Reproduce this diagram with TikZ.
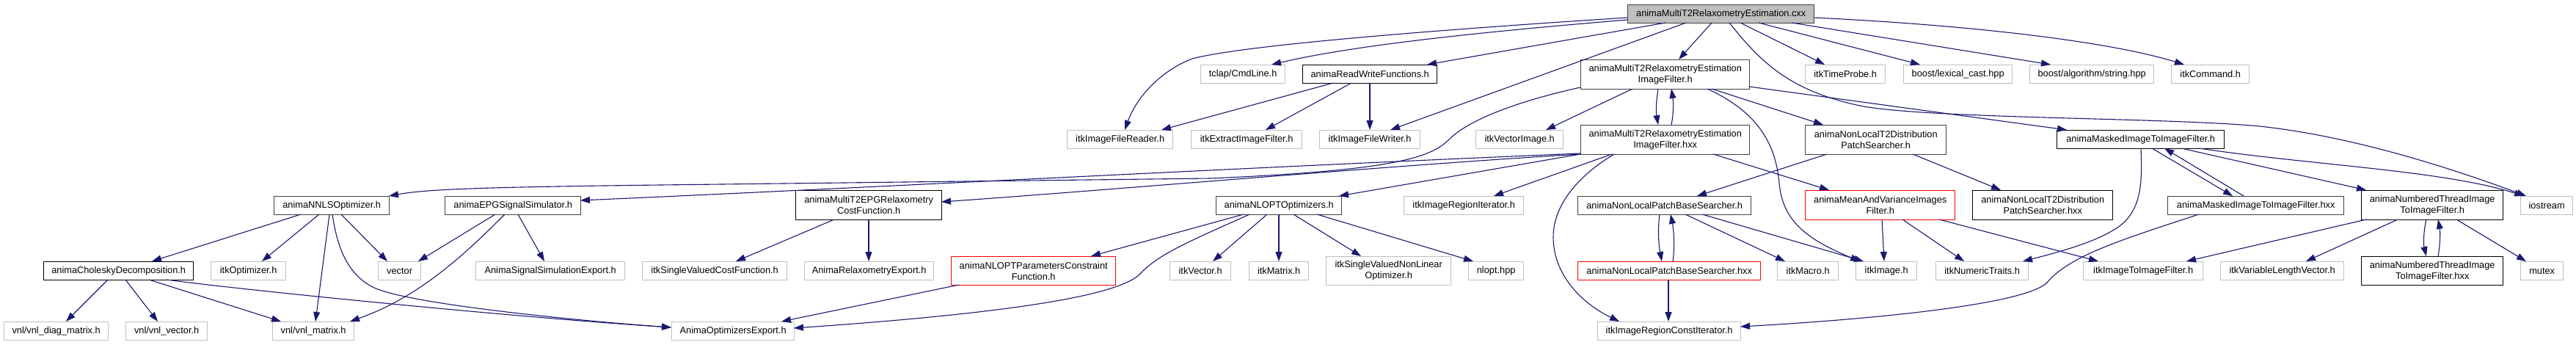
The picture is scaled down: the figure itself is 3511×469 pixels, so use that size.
\documentclass[tikz,border=0pt]{standalone}
\usepackage{fontspec}
\setmainfont{Liberation Sans}
\usetikzlibrary{arrows.meta,calc}
\definecolor{edgeblue}{HTML}{191970}
\definecolor{extgray}{HTML}{BFBFBF}
\definecolor{darkgr}{HTML}{404040}
\tikzset{
  box/.style={draw, line width=1.4pt, inner sep=0pt, anchor=north west, align=center,
    font=\fontsize{12.8}{15}\selectfont, minimum height=25pt},
  tall/.style={minimum height=40pt},
  gbox/.style={box, draw=extgray, line width=1.3pt},
  bbox/.style={box, draw=black},
  dbox/.style={box, draw=darkgr},
  rbox/.style={box, draw=red},
  rootbox/.style={box, draw=darkgr, fill=extgray},
  edge/.style={draw=edgeblue, line width=1.1pt, -{Triangle[length=13pt,width=9pt]}},
}
\begin{document}
\begin{tikzpicture}[x=1pt,y=-1pt]
\useasboundingbox (0,0) rectangle (3511,469);
% row 0
\node[rootbox, minimum width=254pt] (root) at (2218,6) {animaMultiT2RelaxometryEstimation.cxx};
% row 1
\node[gbox, minimum width=115pt] (tclap) at (1636,88) {tclap/CmdLine.h};
\node[bbox, minimum width=183pt] (rw) at (1775,88) {animaReadWriteFunctions.h};
\node[dbox, tall, minimum width=230pt] (ifh) at (2154,81) {animaMultiT2RelaxometryEstimation\\ImageFilter.h};
\node[gbox, minimum width=109pt] (timeprobe) at (2460,88) {itkTimeProbe.h};
\node[gbox, minimum width=148pt] (lexcast) at (2594,88) {boost/lexical\_cast.hpp};
\node[gbox, minimum width=169pt] (boostalg) at (2766,88) {boost/algorithm/string.hpp};
\node[gbox, minimum width=106pt] (itkcmd) at (2959,88) {itkCommand.h};
% row 2
\node[gbox, minimum width=144pt] (reader) at (1454,177) {itkImageFileReader.h};
\node[gbox, minimum width=151pt] (extract) at (1623,177) {itkExtractImageFilter.h};
\node[gbox, minimum width=137pt] (writer) at (1798,177) {itkImageFileWriter.h};
\node[gbox, minimum width=119pt] (vecimg) at (2011,177) {itkVectorImage.h};
\node[dbox, tall, minimum width=230pt] (ifhxx) at (2154,170) {animaMultiT2RelaxometryEstimation\\ImageFilter.hxx};
\node[dbox, tall, minimum width=192pt] (t2ps) at (2460,170) {animaNonLocalT2Distribution\\PatchSearcher.h};
\node[bbox, minimum width=228pt] (mfh) at (2803,177) {animaMaskedImageToImageFilter.h};
% row 3
\node[dbox, minimum width=157pt] (nnls) at (373,267) {animaNNLSOptimizer.h};
\node[dbox, minimum width=185pt] (epg) at (606,267) {animaEPGSignalSimulator.h};
\node[bbox, tall, minimum width=199pt] (cost) at (1084,259) {animaMultiT2EPGRelaxometry\\CostFunction.h};
\node[dbox, minimum width=171pt] (nlopt) at (1657,267) {animaNLOPTOptimizers.h};
\node[gbox, minimum width=163pt] (regit) at (1913,267) {itkImageRegionIterator.h};
\node[dbox, minimum width=236pt] (pbsh) at (2150,267) {animaNonLocalPatchBaseSearcher.h};
\node[rbox, tall, minimum width=204pt] (mv) at (2460,259) {animaMeanAndVarianceImages\\Filter.h};
\node[bbox, tall, minimum width=191pt] (t2psxx) at (2688,259) {animaNonLocalT2Distribution\\PatchSearcher.hxx};
\node[dbox, minimum width=240pt] (mfhxx) at (2954,267) {animaMaskedImageToImageFilter.hxx};
\node[bbox, tall, minimum width=193pt] (nth) at (3218,259) {animaNumberedThreadImage\\ToImageFilter.h};
\node[gbox, minimum width=71pt] (iostream) at (3435,267) {iostream};
% row 4
\node[bbox, minimum width=204pt] (chol) at (59,356) {animaCholeskyDecomposition.h};
\node[gbox, minimum width=102pt] (itkopt) at (287,356) {itkOptimizer.h};
\node[gbox, minimum width=58pt] (vector) at (515,356) {vector};
\node[gbox, minimum width=203pt] (sigexp) at (648,356) {AnimaSignalSimulationExport.h};
\node[gbox, minimum width=197pt] (svcf) at (875,356) {itkSingleValuedCostFunction.h};
\node[gbox, minimum width=176pt] (relexp) at (1096,356) {AnimaRelaxometryExport.h};
\node[rbox, minimum height=39pt, minimum width=224pt] (nloptpcf) at (1296,349) {animaNLOPTParametersConstraint\\Function.h};
\node[gbox, minimum width=83pt] (itkvec) at (1594,356) {itkVector.h};
\node[gbox, minimum width=81pt] (itkmat) at (1702,356) {itkMatrix.h};
\node[gbox, minimum height=39pt, minimum width=170pt] (svnlo) at (1807,349) {itkSingleValuedNonLinear\\Optimizer.h};
\node[gbox, minimum width=75pt] (nlopthpp) at (2001,356) {nlopt.hpp};
\node[rbox, minimum width=249pt] (pbshxx) at (2150,356) {animaNonLocalPatchBaseSearcher.hxx};
\node[gbox, minimum width=83pt] (itkmacro) at (2422,356) {itkMacro.h};
\node[gbox, minimum width=83pt] (itkimage) at (2529,356) {itkImage.h};
\node[gbox, minimum width=126pt] (numtr) at (2638,356) {itkNumericTraits.h};
\node[gbox, minimum width=163pt] (i2i) at (2839,356) {itkImageToImageFilter.h};
\node[gbox, minimum width=168pt] (varlen) at (3026,356) {itkVariableLengthVector.h};
\node[bbox, minimum height=39pt, minimum width=193pt] (nthxx) at (3218,349) {animaNumberedThreadImage\\ToImageFilter.hxx};
\node[gbox, minimum width=58pt] (mutex) at (3435,356) {mutex};
% row 5
\node[gbox, minimum width=142pt] (diag) at (5,438) {vnl/vnl\_diag\_matrix.h};
\node[gbox, minimum width=111pt] (vnlvec) at (171,438) {vnl/vnl\_vector.h};
\node[gbox, minimum width=111pt] (vnlmat) at (371,438) {vnl/vnl\_matrix.h};
\node[gbox, minimum width=167pt] (optexp) at (915,438) {AnimaOptimizersExport.h};
\node[gbox, minimum width=195pt] (rci) at (2177,438) {itkImageRegionConstIterator.h};

% ---- edges from root
\draw[edge] ($(root.north west)+(0,18)$) .. controls (2000,38) and (1700,60) .. (1625,80) .. controls (1585,95) and (1550,130) .. ($(reader.north west)+(79,0)$);
\draw[edge] ($(root.north west)+(0,21)$) .. controls (2000,45) and (1840,63) .. ($(tclap.north west)+(97,0)$);
\draw[edge] ($(root.north west)+(52,25)$) -- ($(rw.north west)+(170,0)$);
\draw[edge] ($(root.north west)+(80,25)$) -- ($(writer.north west)+(97,0)$);
\draw[edge] ($(root.north west)+(115,25)$) -- ($(ifh.north west)+(134,0)$);
\draw[edge] ($(root.north west)+(139,25)$) .. controls (2400,85) and (2440,125) .. (2540,145) .. controls (2640,162) and (2950,160) .. (3080,172) .. controls (3200,185) and (3330,225) .. ($(iostream.north west)+(8,0)$);
\draw[edge] ($(root.north west)+(154,25)$) -- ($(timeprobe.north west)+(27,0)$);
\draw[edge] ($(root.north west)+(179,25)$) -- ($(lexcast.north west)+(23,0)$);
\draw[edge] ($(root.north west)+(224,25)$) -- ($(boostalg.north west)+(29,0)$);
\draw[edge] ($(root.north west)+(254,18)$) .. controls (2700,35) and (2880,58) .. ($(itkcmd.north west)+(18,0)$);
% ---- ReadWrite
\draw[edge] ($(rw.north west)+(42,25)$) -- ($(reader.north west)+(129,0)$);
\draw[edge] ($(rw.north west)+(67,25)$) -- ($(extract.north west)+(102,0)$);
\draw[edge] ($(rw.north west)+(92,25)$) -- ($(writer.north west)+(69,0)$);
% ---- ImageFilter.h
\draw[edge] ($(ifh.north west)+(106,40)$) .. controls (2257,140) and (2257,152) .. ($(ifhxx.north west)+(106,0)$);
\draw[edge] ($(ifhxx.north west)+(124,0)$) .. controls (2281,155) and (2281,140) .. ($(ifh.north west)+(124,40)$);
\draw[edge] ($(ifh.north west)+(71,40)$) -- ($(vecimg.north west)+(96,0)$);
\draw[edge] ($(ifh.north west)+(0,38)$) .. controls (2060,140) and (2000,165) .. (1975,190) .. controls (1950,215) and (1900,232) .. (1650,243) -- (900,252) .. controls (650,255) and (580,258) .. ($(nnls.north west)+(157,0)$);
\draw[edge] ($(ifh.north west)+(179,40)$) -- ($(t2ps.north west)+(25,0)$);
\draw[edge] ($(ifh.north west)+(173,40)$) .. controls (2390,150) and (2420,190) .. (2425,250) .. controls (2430,300) and (2460,325) .. ($(itkimage.north west)+(6,0)$);
\draw[edge] ($(ifh.north west)+(230,37)$) -- ($(mfh.north west)+(14,0)$);
% ---- ImageFilter.hxx
\draw[edge] ($(ifhxx.north west)+(0,39)$) .. controls (1700,228) and (1200,255) .. ($(epg.north west)+(185,6)$);
\draw[edge] ($(ifhxx.north west)+(0,40)$) .. controls (1900,225) and (1500,260) .. ($(cost.north west)+(199,16)$);
\draw[edge] ($(ifhxx.north west)+(0,40)$) -- ($(nlopt.north west)+(168,0)$);
\draw[edge] ($(ifhxx.north west)+(43,40)$) -- ($(regit.north west)+(123,0)$);
\draw[edge] ($(ifhxx.north west)+(46,40)$) .. controls (2150,240) and (2117,280) .. (2117,323) .. controls (2117,370) and (2150,410) .. ($(rci.north west)+(30,0)$);
\draw[edge] ($(ifhxx.north west)+(181,40)$) -- ($(mv.north west)+(33,0)$);
% ---- T2 patch searcher
\draw[edge] ($(t2ps.north west)+(30,40)$) -- ($(pbsh.north west)+(163,0)$);
\draw[edge] ($(t2ps.north west)+(147,40)$) -- ($(t2psxx.north west)+(39,0)$);
% ---- masked filter
\draw[edge] ($(mfh.north west)+(130,25)$) -- ($(mfhxx.north west)+(89,0)$);
\draw[edge] ($(mfhxx.north west)+(104,0)$) -- ($(mfh.north west)+(147,25)$);
\draw[edge] ($(mfh.north west)+(115,25)$) .. controls (2920,250) and (2918,280) .. (2895,303) .. controls (2870,325) and (2820,340) .. ($(numtr.north west)+(119,0)$);
\draw[edge] ($(mfh.north west)+(194,25)$) .. controls (3150,225) and (3330,232) .. ($(iostream.north west)+(5,0)$);
\draw[edge] ($(mfh.north west)+(170,25)$) -- ($(nth.north west)+(7,0)$);
\draw[edge] ($(mfhxx.north west)+(43,25)$) .. controls (2880,330) and (2820,350) .. (2790,385) .. controls (2760,415) and (2550,435) .. ($(rci.north west)+(195,7)$);
% ---- numbered thread filter
\draw[edge] ($(nth.north west)+(7,40)$) -- ($(i2i.north west)+(141,0)$);
\draw[edge] ($(nth.north west)+(50,40)$) -- ($(varlen.north west)+(117,0)$);
\draw[edge] ($(nth.north west)+(89,40)$) .. controls (3303,315) and (3303,333) .. ($(nthxx.north west)+(89,0)$);
\draw[edge] ($(nthxx.north west)+(105,0)$) .. controls (3326,333) and (3326,315) .. ($(nth.north west)+(105,40)$);
\draw[edge] ($(nth.north west)+(130,40)$) -- ($(mutex.north west)+(8,0)$);
% ---- mean and variance
\draw[edge] ($(mv.north west)+(105,40)$) -- ($(itkimage.north west)+(39,0)$);
\draw[edge] ($(mv.north west)+(133,40)$) -- ($(numtr.north west)+(39,0)$);
\draw[edge] ($(mv.north west)+(183,40)$) -- ($(i2i.north west)+(21,0)$);
% ---- patch base searcher
\draw[edge] ($(pbsh.north west)+(112,25)$) .. controls (2259,315) and (2261,335) .. ($(pbshxx.north west)+(115,0)$);
\draw[edge] ($(pbshxx.north west)+(130,0)$) .. controls (2283,335) and (2281,312) .. ($(pbsh.north west)+(127,25)$);
\draw[edge] ($(pbsh.north west)+(147,25)$) -- ($(itkmacro.north west)+(11,0)$);
\draw[edge] ($(pbsh.north west)+(170,25)$) -- ($(itkimage.north west)+(11,0)$);
\draw[edge] ($(pbshxx.north west)+(124,25)$) -- ($(rci.north west)+(97,0)$);
% ---- NNLS
\draw[edge] ($(nnls.north west)+(37,25)$) -- ($(chol.north west)+(148,0)$);
\draw[edge] ($(nnls.north west)+(62,25)$) -- ($(itkopt.north west)+(70,0)$);
\draw[edge] ($(nnls.north west)+(76,25)$) -- ($(vnlmat.north west)+(59,0)$);
\draw[edge] ($(nnls.north west)+(92,25)$) -- ($(vector.north west)+(13,0)$);
\draw[edge] ($(nnls.north west)+(80,25)$) .. controls (460,340) and (475,375) .. (510,392) .. controls (560,415) and (800,438) .. ($(optexp.north west)+(0,8)$);
% ---- Cholesky
\draw[edge] ($(chol.north west)+(88,25)$) -- ($(diag.north west)+(85,0)$);
\draw[edge] ($(chol.north west)+(112,25)$) -- ($(vnlvec.north west)+(44,0)$);
\draw[edge] ($(chol.north west)+(144,25)$) -- ($(vnlmat.north west)+(12,0)$);
\draw[edge] ($(chol.north west)+(168,25)$) .. controls (330,395) and (700,432) .. ($(optexp.north west)+(0,8)$);
% ---- EPG
\draw[edge] ($(epg.north west)+(69,25)$) -- ($(vector.north west)+(55,0)$);
\draw[edge] ($(epg.north west)+(82,25)$) .. controls (630,350) and (570,405) .. ($(vnlmat.north west)+(106,0)$);
\draw[edge] ($(epg.north west)+(100,25)$) -- ($(sigexp.north west)+(94,0)$);
% ---- cost function
\draw[edge] ($(cost.north west)+(53,40)$) -- ($(svcf.north west)+(128,0)$);
\draw[edge] ($(cost.north west)+(100,40)$) -- ($(relexp.north west)+(88,0)$);
% ---- NLOPT
\draw[edge] ($(nlopt.north west)+(38,25)$) -- ($(nloptpcf.north west)+(191,0)$);
\draw[edge] ($(nlopt.north west)+(46,25)$) .. controls (1630,325) and (1580,345) .. (1555,372) .. controls (1530,400) and (1400,425) .. ($(optexp.north west)+(167,9)$);
\draw[edge] ($(nlopt.north west)+(70,25)$) -- ($(itkvec.north west)+(59,0)$);
\draw[edge] ($(nlopt.north west)+(86,25)$) -- ($(itkmat.north west)+(41,0)$);
\draw[edge] ($(nlopt.north west)+(106,25)$) -- ($(svnlo.north west)+(48,0)$);
\draw[edge] ($(nlopt.north west)+(138,25)$) -- ($(nlopthpp.north west)+(7,0)$);
\draw[edge] ($(nloptpcf.north west)+(11,39)$) -- ($(optexp.north west)+(150,0)$);
\end{tikzpicture}
\end{document}
